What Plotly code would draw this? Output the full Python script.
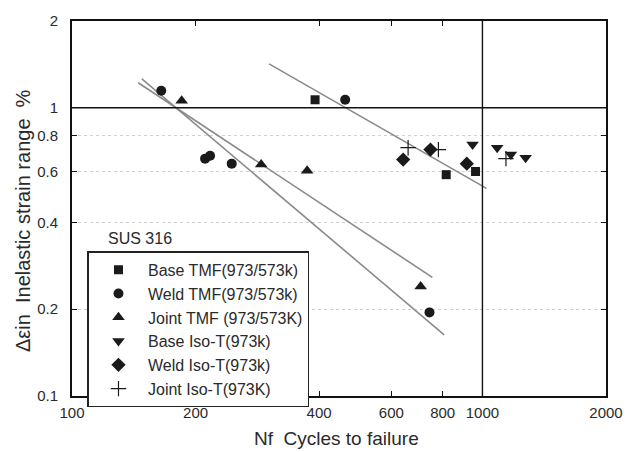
import plotly.graph_objects as go

# ---- data ----
base_tmf_x = [391, 816, 962]
base_tmf_y = [1.066, 0.586, 0.601]
weld_tmf_x = [165, 211, 217, 245, 463, 743]
weld_tmf_y = [1.145, 0.666, 0.682, 0.640, 1.066, 0.195]
joint_tmf_x = [185, 289, 374, 707]
joint_tmf_y = [1.058, 0.635, 0.605, 0.240]
base_iso_x = [946, 1086, 1173, 1274]
base_iso_y = [0.745, 0.727, 0.688, 0.671]
weld_iso_x = [641, 747, 916]
weld_iso_y = [0.661, 0.716, 0.640]
joint_iso_x = [659, 781, 1141]
joint_iso_y = [0.727, 0.716, 0.666]

fit_base_x = [302, 1023]
fit_base_y = [1.42, 0.525]
fit_joint_x = [145, 755]
fit_joint_y = [1.221, 0.258]
fit_weld_x = [148, 807]
fit_weld_y = [1.259, 0.163]

x_ticks = [100, 200, 400, 600, 800, 1000, 2000]
y_ticks = [0.1, 0.2, 0.4, 0.6, 0.8, 1, 2]

FONT = "Arial, Liberation Sans, sans-serif"
TXT = "#2a2a2a"

fig = go.Figure()

for fx, fy in [(fit_base_x, fit_base_y), (fit_joint_x, fit_joint_y), (fit_weld_x, fit_weld_y)]:
    fig.add_trace(go.Scatter(x=fx, y=fy, mode="lines", showlegend=False,
                             line=dict(color="#8a8a8a", width=1.6), hoverinfo="skip"))

series = [
    ("Base TMF(973/573k)", base_tmf_x, base_tmf_y, "square", 9),
    ("Weld TMF(973/573k)", weld_tmf_x, weld_tmf_y, "circle", 10),
    ("Joint TMF (973/573K)", joint_tmf_x, joint_tmf_y, "triangle-up", 11),
    ("Base Iso-T(973k)", base_iso_x, base_iso_y, "triangle-down", 11),
    ("Weld Iso-T(973k)", weld_iso_x, weld_iso_y, "diamond", 11),
    ("Joint Iso-T(973K)", joint_iso_x, joint_iso_y, "cross-thin", 11),
]
for name, xs, ys, sym, sz in series:
    mk = dict(symbol=sym, size=sz, color="#1a1a1a")
    if sym == "cross-thin":
        mk["line"] = dict(color="#1a1a1a", width=1.2)
    fig.add_trace(go.Scatter(x=xs, y=ys, mode="markers", name=name, marker=mk))

# solid reference lines at 1 % and 1000 cycles
fig.add_shape(type="line", xref="paper", x0=0, x1=1, yref="y", y0=1, y1=1,
              line=dict(color="#111", width=1.6))
fig.add_shape(type="line", xref="x", x0=1000, x1=1000, yref="paper", y0=0, y1=1,
              line=dict(color="#111", width=1.4))

fig.update_xaxes(type="log", range=[2, 3.30103], tickvals=x_ticks,
                 ticktext=[str(v) for v in x_ticks],
                 ticks="inside", ticklen=5, tickcolor="#111", mirror="ticks",
                 showline=True, linecolor="#111", linewidth=2, showgrid=False,
                 zeroline=False, ticklabelstandoff=2,
                 tickfont=dict(family=FONT, size=15, color=TXT))
fig.update_yaxes(type="log", range=[-1, 0.30103], tickvals=y_ticks,
                 ticktext=["0.1", "0.2", "0.4", "0.6", "0.8", "1", "2"],
                 ticks="inside", ticklen=5, tickcolor="#111", mirror="ticks",
                 showline=True, linecolor="#111", linewidth=2,
                 showgrid=True, gridcolor="#d0d0d0", griddash="dot", gridwidth=1,
                 zeroline=False, ticklabelstandoff=9,
                 tickfont=dict(family=FONT, size=15, color=TXT))

fig.add_annotation(text="Nf\u00a0\u00a0Cycles to failure", xref="paper", yref="paper",
                   x=0.495, y=-0.112, xanchor="center", yanchor="middle",
                   showarrow=False, font=dict(family=FONT, size=19, color=TXT))
fig.add_annotation(text="\u0394\u03b5in\u00a0\u00a0Inelastic strain range\u00a0\u00a0%",
                   xref="paper", yref="paper", x=-0.092, y=0.469, textangle=-90,
                   xanchor="center", yanchor="middle", showarrow=False,
                   font=dict(family=FONT, size=20, color=TXT))
fig.add_annotation(text="SUS 316", xref="paper", yref="paper",
                   x=0.064, y=0.420, xanchor="left", yanchor="middle",
                   showarrow=False, font=dict(family=FONT, size=16, color=TXT))

fig.update_layout(
    width=635, height=452,
    margin=dict(l=72, r=18, t=20, b=56),
    paper_bgcolor="white", plot_bgcolor="white",
    font=dict(family=FONT, color=TXT),
    legend=dict(x=0.029, y=0.386, xanchor="left", yanchor="top",
                bgcolor="white", bordercolor="#222", borderwidth=1.5,
                font=dict(family=FONT, size=16, color=TXT),
                itemwidth=49, tracegroupgap=0),
)

fig.write_html("out.html")
